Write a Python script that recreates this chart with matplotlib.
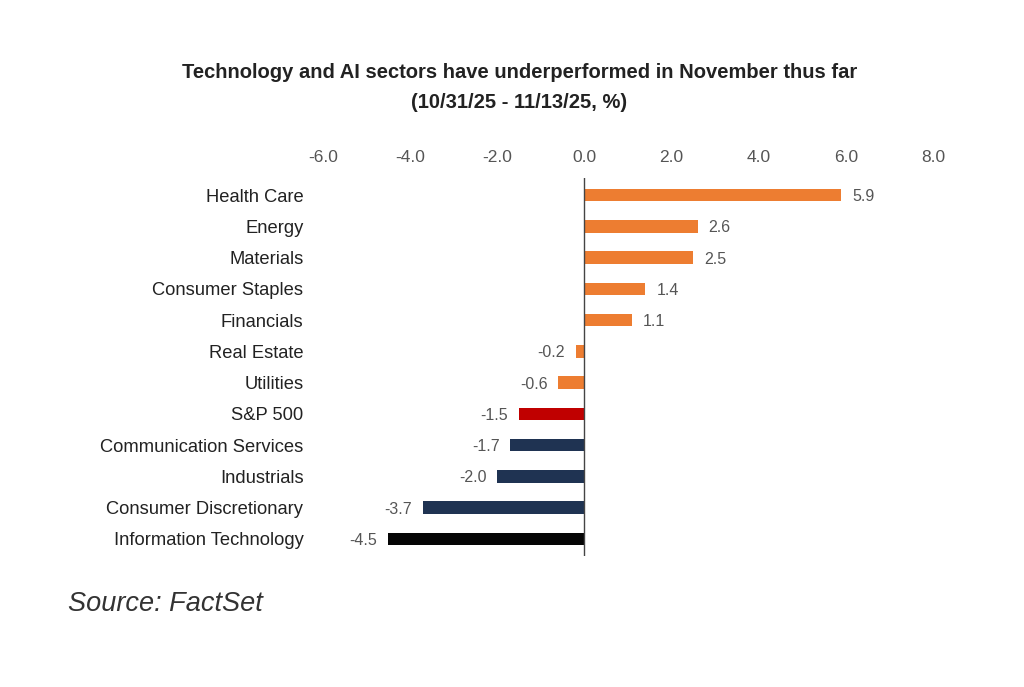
import matplotlib.pyplot as plt
import numpy as np

categories = ["Health Care", "Energy", "Materials", "Consumer Staples", "Financials",
              "Real Estate", "Utilities", "S&P 500", "Communication Services",
              "Industrials", "Consumer Discretionary", "Information Technology"]
values = [5.9, 2.6, 2.5, 1.4, 1.1, -0.2, -0.6, -1.5, -1.7, -2.0, -3.7, -4.5]
colors = ["#ED7D31"] * 7 + ["#C00000"] + ["#1F3352"] * 3 + ["#050505"]
ticks = [-6.0, -4.0, -2.0, 0.0, 2.0, 4.0, 6.0, 8.0]

plt.rcParams['font.family'] = ['Liberation Sans', 'DejaVu Sans']

fig = plt.figure(figsize=(10.24, 6.87), dpi=100)
ax = fig.add_axes([323 / 1024, 1 - 556 / 687, (933 - 323) / 1024, (556 - 178) / 687])

y = np.arange(len(categories))
ax.barh(y, values, height=0.4, color=colors)
ax.set_ylim(len(categories) - 0.45, -0.55)
ax.set_xlim(-6, 8)

for yi, v in zip(y, values):
    off = 0.25 if v >= 0 else -0.25
    ax.text(v + off, yi, f"{v:.1f}", ha='left' if v >= 0 else 'right', va='center_baseline',
            fontsize=11.5, color='#555555')

ax.xaxis.tick_top()
ax.set_xticks(ticks)
ax.set_xticklabels([f"{t:.1f}" for t in ticks], fontsize=12.5, color='#555555')
ax.tick_params(axis='x', length=0, pad=9)
ax.set_yticks([])
for s in ax.spines.values():
    s.set_visible(False)
ax.axvline(0, color='#444444', lw=1)

for yi, c in zip(y, categories):
    ax.text(-6.45, yi, c, ha='right', va='center_baseline', fontsize=13.2, color='#222222')

fig.text(0.507, 1 - 73 / 687, "Technology and AI sectors have underperformed in November thus far",
         ha='center', va='center', fontsize=14.5, fontweight='bold', color='#222222')
fig.text(0.507, 1 - 103 / 687, "(10/31/25 - 11/13/25, %)",
         ha='center', va='center', fontsize=14.5, fontweight='bold', color='#222222')
fig.text(68 / 1024, 1 - 604 / 687, "Source: FactSet", ha='left', va='center',
         fontsize=19.5, fontstyle='italic', color='#333333')

fig.savefig("out.png", dpi=100)
